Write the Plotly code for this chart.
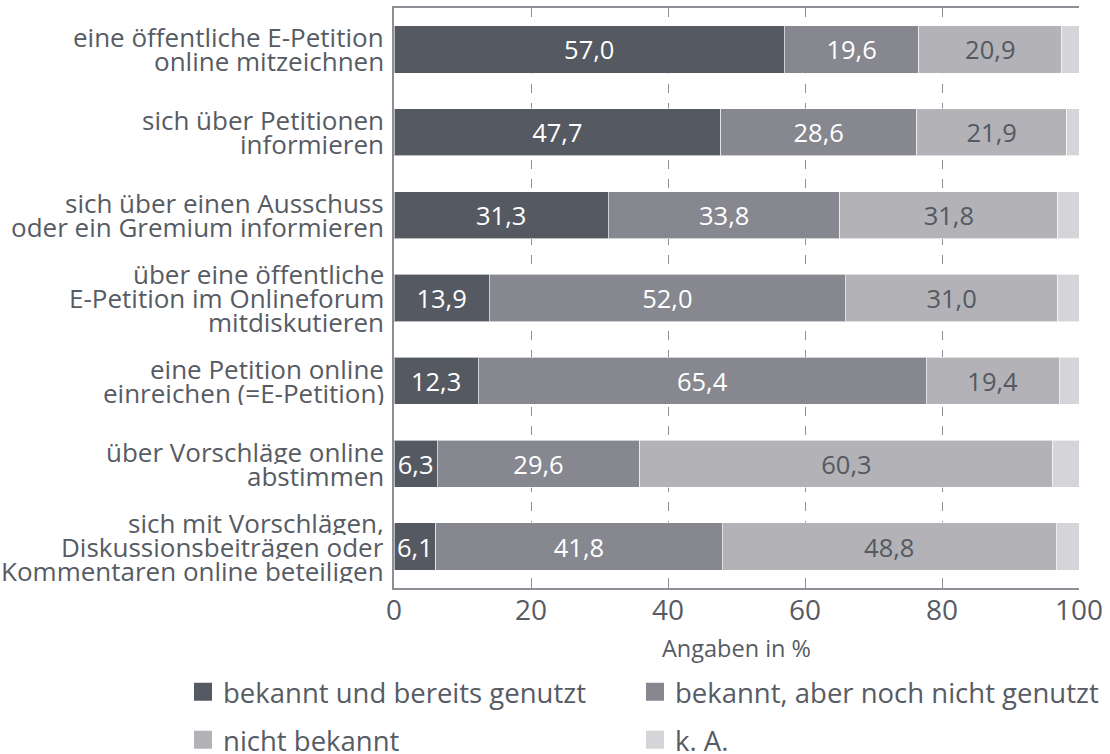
import plotly.graph_objects as go

categories = [
    "eine öffentliche E-Petition<br>online mitzeichnen",
    "sich über Petitionen<br>informieren",
    "sich über einen Ausschuss<br>oder ein Gremium informieren",
    "über eine öffentliche<br>E-Petition im Onlineforum<br>mitdiskutieren",
    "eine Petition online<br>einreichen (=E-Petition)",
    "über Vorschläge online<br>abstimmen",
    "sich mit Vorschlägen,<br>Diskussionsbeiträgen oder<br>Kommentaren online beteiligen",
]
series_names = [
    "bekannt und bereits genutzt",
    "bekannt, aber noch nicht genutzt",
    "nicht bekannt",
    "k. A.",
]
genutzt = [57.0, 47.7, 31.3, 13.9, 12.3, 6.3, 6.1]
nicht_genutzt = [19.6, 28.6, 33.8, 52.0, 65.4, 29.6, 41.8]
nicht_bekannt = [20.9, 21.9, 31.8, 31.0, 19.4, 60.3, 48.8]
k_a = [2.5, 1.8, 3.1, 3.1, 2.9, 3.8, 3.3]
tick_values = [0, 20, 40, 60, 80, 100]

series_values = [genutzt, nicht_genutzt, nicht_bekannt, k_a]
colors = ["#555961", "#86878F", "#B2B2B7", "#D4D4D9"]
text_colors = ["#FFFFFF", "#FFFFFF", "#555961", "#555961"]
show_text = [True, True, True, False]

FONT = "Open Sans"
TXT = "#575B63"
AXC = "#8E8F96"
LABEL_SIZE = 26
LINE_STEP = 24  # px between lines of a category label

fig = go.Figure()
for name, vals, col, tcol, st in zip(series_names, series_values, colors, text_colors, show_text):
    fig.add_trace(go.Bar(
        y=categories, x=vals, name=name, orientation="h",
        marker=dict(color=col, line=dict(color="rgba(255,255,255,0.6)", width=1)),
        width=0.57,
        text=[f"{v:.1f}".replace(".", ",") for v in vals] if st else None,
        textposition="inside" if st else "none",
        insidetextanchor="middle",
        textangle=0,
        textfont=dict(family=FONT, size=25.5, color=tcol),
        showlegend=False,
        hoverinfo="x+name",
    ))

# legend entries (square markers), one legend box per entry (2 x 2 grid)
legend_ids = ["legend", "legend2", "legend3", "legend4"]
legend_pos = [(-0.308, -0.1793), (0.3518, -0.1793), (-0.308, -0.262), (0.3518, -0.262)]
for name, col, lg in zip(series_names, colors, legend_ids):
    fig.add_trace(go.Scatter(
        x=[None], y=[None], mode="markers", name=name, legend=lg,
        marker=dict(symbol="square", size=16, color=col, line=dict(color=col, width=2)),
        showlegend=True,
    ))

# category labels: one text per line, tightly spaced like the original
for cat in categories:
    lines = cat.split("<br>")
    n = len(lines)
    for i, line in enumerate(lines):
        fig.add_annotation(
            x=0, xref="paper", y=cat, yref="y",
            text=line, showarrow=False,
            xanchor="right", yanchor="middle", align="right",
            height=LINE_STEP, valign="middle",
            xshift=-8, yshift=((n - 1) / 2 - i) * LINE_STEP,
            font=dict(family=FONT, size=LABEL_SIZE, color=TXT),
        )

legend_common = dict(
    orientation="h", xanchor="left", yanchor="middle",
    font=dict(family=FONT, size=27.5, color=TXT),
    bgcolor="rgba(0,0,0,0)",
)
legend_layout = {
    lg: dict(x=px, y=py, **legend_common) for lg, (px, py) in zip(legend_ids, legend_pos)
}

fig.update_layout(
    width=1150, height=780,
    margin=dict(l=394, r=71, t=8, b=192),
    paper_bgcolor="white", plot_bgcolor="white",
    barmode="stack",
    font=dict(family=FONT, color=TXT),
    xaxis=dict(
        range=[0, 100], tickvals=tick_values,
        showgrid=True, gridcolor=AXC, griddash="9px,10px", gridwidth=1,
        showline=True, linecolor=AXC, linewidth=1.5, mirror="ticks",
        ticks="inside", ticklen=6, tickcolor=AXC,
        tickfont=dict(family=FONT, size=28, color=TXT),
        ticklabelstandoff=-3,
        title=dict(text="Angaben in %", font=dict(family=FONT, size=23.5, color=TXT), standoff=13),
        zeroline=False, automargin=False,
    ),
    yaxis=dict(
        autorange="reversed",
        showline=True, linecolor=AXC, linewidth=1.5,
        showgrid=False, ticks="", showticklabels=False,
        automargin=False,
    ),
    **legend_layout,
)

fig.write_html("out.html", config={"displayModeBar": False},
               post_script="document.body.style.margin='0';")
